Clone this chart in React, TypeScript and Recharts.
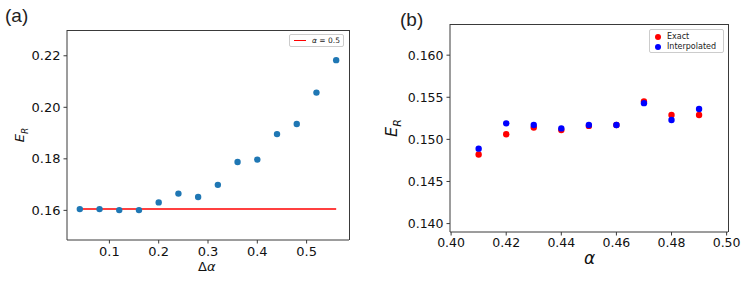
import React from 'react';
import {
  ScatterChart,
  Scatter,
  XAxis,
  YAxis,
  ReferenceLine,
} from 'recharts';

// panel (a): E_R vs delta alpha
const deltaAlpha = [0.04, 0.08, 0.12, 0.16, 0.2, 0.24, 0.28, 0.32, 0.36, 0.4, 0.44, 0.48, 0.52, 0.56];
const erDelta = [0.1605, 0.1605, 0.1601, 0.1601, 0.1631, 0.1665, 0.1652, 0.1699, 0.1788, 0.1797, 0.1896, 0.1935, 0.2057, 0.2183];
const refLevel = 0.1605; // alpha = 0.5
const aXTicks = [0.1, 0.2, 0.3, 0.4, 0.5];
const aYTicks = [0.16, 0.18, 0.2, 0.22];

// panel (b): exact vs interpolated
const alphas = [0.41, 0.42, 0.43, 0.44, 0.45, 0.46, 0.47, 0.48, 0.49];
const exact = [0.1482, 0.1506, 0.1514, 0.1511, 0.1516, 0.1517, 0.1545, 0.1529, 0.1529];
const interpolated = [0.1489, 0.1519, 0.1517, 0.1513, 0.1517, 0.1517, 0.1543, 0.1523, 0.1536];
const bXTicks = [0.4, 0.42, 0.44, 0.46, 0.48, 0.5];
const bYTicks = [0.14, 0.145, 0.15, 0.155, 0.16];

const dataA = deltaAlpha.map((x, i) => ({ x, y: erDelta[i] }));
const dataExact = alphas.map((x, i) => ({ x, y: exact[i] }));
const dataInterp = alphas.map((x, i) => ({ x, y: interpolated[i] }));

const FONT = '"DejaVu Sans", sans-serif';
const SPINE = '#3a3a3a';
const tickStyle = { fontSize: 13, fill: '#111', fontFamily: FONT };

const dot = (color: string, r: number) => (props: any) => (
  <circle cx={props.cx} cy={props.cy} r={r} fill={color} />
);

const Label = ({ style, children }: { style: React.CSSProperties; children: React.ReactNode }) => (
  <div style={{ position: 'absolute', whiteSpace: 'nowrap', lineHeight: 1, ...style }}>{children}</div>
);

// top + right spines of the matplotlib-style frame
const Frame = ({ left, top, width, height }: { left: number; top: number; width: number; height: number }) => (
  <div
    style={{
      position: 'absolute', left, top, width, height, boxSizing: 'border-box',
      borderTop: `1px solid ${SPINE}`, borderRight: `1px solid ${SPINE}`, pointerEvents: 'none',
    }}
  />
);

export default function App() {
  return (
    <div style={{ position: 'fixed', left: 0, top: 0, width: 748, height: 282, background: '#fff', fontFamily: FONT }}>
      {/* (a) */}
      <div style={{ position: 'absolute', left: 0, top: 0 }}>
        <ScatterChart width={360} height={282} margin={{ top: 30, right: 11, bottom: 12, left: 7 }}>
          <XAxis
            type="number"
            dataKey="x"
            domain={[0.014, 0.586]}
            ticks={aXTicks}
            tickFormatter={(v) => v.toFixed(1)}
            allowDataOverflow
            height={30}
            tick={tickStyle}
            tickSize={3.5}
            tickMargin={3}
            stroke={SPINE}
          />
          <YAxis
            type="number"
            dataKey="y"
            domain={[0.1485, 0.23]}
            ticks={aYTicks}
            tickFormatter={(v) => v.toFixed(2)}
            allowDataOverflow
            width={60}
            tick={tickStyle}
            tickSize={3.5}
            tickMargin={3}
            stroke={SPINE}
          />
          <Scatter data={dataA} fill="#1f77b4" shape={dot('#1f77b4', 3.2)} isAnimationActive={false} />
          <ReferenceLine
            segment={[{ x: deltaAlpha[0], y: refLevel }, { x: deltaAlpha[deltaAlpha.length - 1], y: refLevel }]}
            stroke="#ff0000"
            strokeWidth={1.5}
          />
        </ScatterChart>
      </div>
      <Frame left={67} top={30} width={282.5} height={210} />
      <Label style={{ left: 5, top: 6, fontSize: 19, fontFamily: '"Liberation Sans", sans-serif', color: '#222' }}>(a)</Label>
      <Label style={{ left: 14, top: 135, fontSize: 13, fontStyle: 'italic', transform: 'translate(0,-50%) rotate(-90deg)', color: '#111' }}>
        E<sub style={{ fontSize: 9 }}>R</sub>
      </Label>
      <Label style={{ left: 198, top: 260, fontSize: 13, color: '#111' }}>
        Δ<i>α</i>
      </Label>
      <div style={{ position: 'absolute', left: 289, top: 34, width: 55, height: 13, border: '1px solid #ccc', borderRadius: 2, boxSizing: 'border-box', background: '#fff' }}>
        <div style={{ position: 'absolute', left: 4, top: 5, width: 12, height: 0, borderTop: '1.5px solid #ff0000' }} />
        <Label style={{ left: 22, top: 2, fontSize: 7.5, color: '#222' }}>
          <i>α</i> = 0.5
        </Label>
      </div>

      {/* (b) */}
      <div style={{ position: 'absolute', left: 374, top: 0 }}>
        <ScatterChart width={374} height={282} margin={{ top: 24, right: 20, bottom: 20, left: 6 }}>
          <XAxis
            type="number"
            dataKey="x"
            domain={[0.3996, 0.5005]}
            ticks={bXTicks}
            tickFormatter={(v) => v.toFixed(2)}
            allowDataOverflow
            height={30}
            tick={{ ...tickStyle, fontSize: 12.5 }}
            tickSize={3.5}
            tickMargin={3}
            stroke={SPINE}
          />
          <YAxis
            type="number"
            dataKey="y"
            domain={[0.139, 0.1637]}
            ticks={bYTicks}
            tickFormatter={(v) => v.toFixed(3)}
            allowDataOverflow
            width={70}
            tick={{ ...tickStyle, fontSize: 12.5 }}
            tickSize={3.5}
            tickMargin={3}
            stroke={SPINE}
          />
          <Scatter name="Exact" data={dataExact} fill="#ff0000" shape={dot('#ff0000', 3.2)} isAnimationActive={false} />
          <Scatter name="Interpolated" data={dataInterp} fill="#0000ff" shape={dot('#0000ff', 3.2)} isAnimationActive={false} />
        </ScatterChart>
      </div>
      <Frame left={450} top={24} width={278.5} height={208} />
      <Label style={{ left: 400, top: 10, fontSize: 19, fontFamily: '"Liberation Sans", sans-serif', color: '#222' }}>(b)</Label>
      <Label style={{ left: 385, top: 128, fontSize: 16, fontStyle: 'italic', transform: 'translate(0,-50%) rotate(-90deg)', color: '#111' }}>
        E<sub style={{ fontSize: 11 }}>R</sub>
      </Label>
      <Label style={{ left: 584, top: 250, fontSize: 17, fontStyle: 'italic', color: '#111' }}>α</Label>
      <div style={{ position: 'absolute', left: 649, top: 29, width: 75, height: 24, border: '1px solid #ccc', borderRadius: 2, boxSizing: 'border-box', background: '#fff' }}>
        <div style={{ position: 'absolute', left: 5, top: 4, width: 6, height: 6, borderRadius: 3, background: '#ff0000' }} />
        <div style={{ position: 'absolute', left: 5, top: 14, width: 6, height: 6, borderRadius: 3, background: '#0000ff' }} />
        <Label style={{ left: 17, top: 2.5, fontSize: 8, color: '#222' }}>Exact</Label>
        <Label style={{ left: 17, top: 13, fontSize: 8, color: '#222' }}>Interpolated</Label>
      </div>
    </div>
  );
}
